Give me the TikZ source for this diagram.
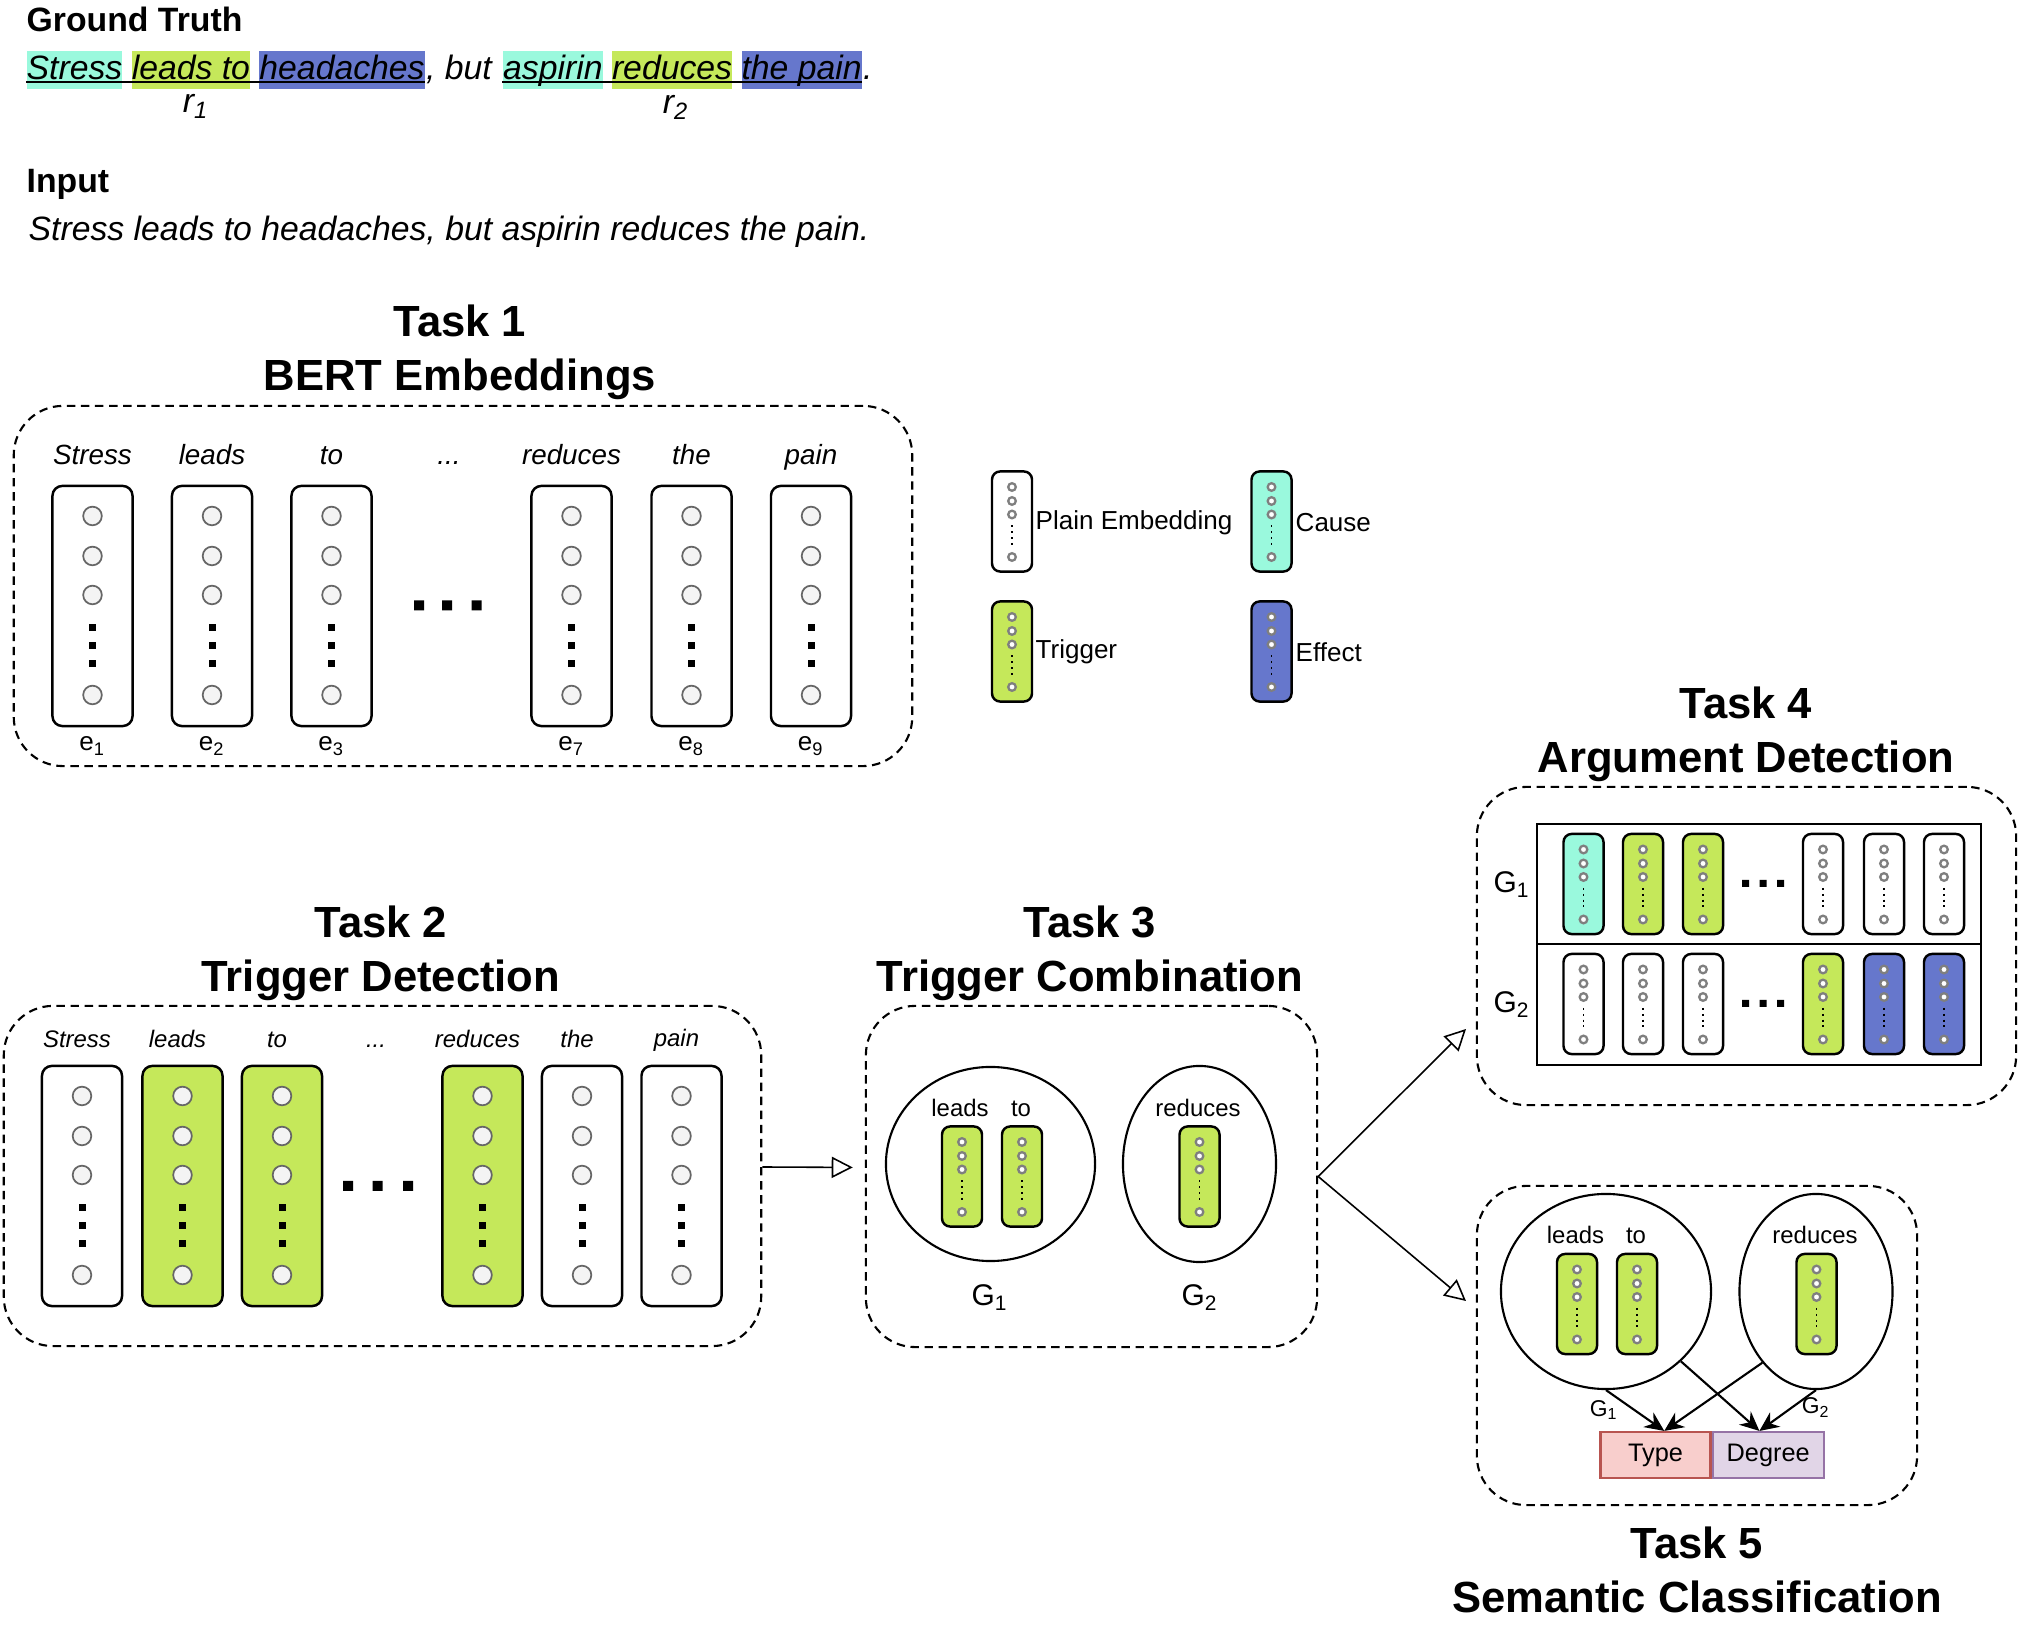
\documentclass[tikz,border=0pt]{standalone}
\usepackage{fontspec}
\setmainfont{Liberation Sans}
\usetikzlibrary{positioning,shapes.geometric,arrows.meta}
\definecolor{causecol}{HTML}{9AF9DD}
\definecolor{trigcol}{HTML}{C5E85A}
\definecolor{effectcol}{HTML}{6677CC}
\definecolor{typecol}{HTML}{F8CECC}
\definecolor{typeline}{HTML}{B85450}
\definecolor{degcol}{HTML}{E1D5E7}
\definecolor{degline}{HTML}{9673A6}
\definecolor{dotline}{HTML}{666666}
\definecolor{dotfill}{HTML}{F4F4F4}
\definecolor{ringgray}{HTML}{7F7F7F}
\begin{document}
\begin{tikzpicture}[x=0.01cm, y=-0.01cm,
  heading/.style={font=\bfseries\fontsize{9.6}{11.5}\selectfont, anchor=base west, inner sep=0},
  gt/.style={font=\itshape\fontsize{9.6}{11.5}\selectfont, inner sep=0, text height=0.29cm, text depth=0.09cm},
  tasktitle/.style={font=\bfseries\fontsize{12.4}{15.4}\selectfont, align=center, inner sep=0},
  task/.style={draw, dash pattern=on 2.4pt off 1.6pt, line width=0.6pt, rounded corners=14pt, inner sep=0},
  word/.style={font=\itshape\fontsize{7.9}{9.5}\selectfont, anchor=base, inner sep=0},
  tword/.style={font=\itshape\fontsize{6.8}{8}\selectfont, anchor=base, inner sep=0},
  elab/.style={font=\fontsize{7.4}{9}\selectfont, anchor=base, inner sep=0},
  leg/.style={font=\fontsize{7.4}{9}\selectfont, anchor=west, inner sep=0},
  gword/.style={font=\fontsize{6.8}{8}\selectfont, anchor=base, inner sep=0},
  glab/.style={font=\fontsize{8.5}{10}\selectfont, anchor=base, inner sep=0},
  gsmall/.style={font=\fontsize{6.5}{8}\selectfont, anchor=base, inner sep=0},
  bigbox/.style={draw, line width=0.7pt, rounded corners=2.8pt, minimum width=0.8cm, minimum height=2.4cm, inner sep=0},
  smallbox/.style={draw, line width=0.7pt, rounded corners=2.3pt, minimum width=0.4cm, minimum height=1cm, inner sep=0},
  bigdot/.style={draw=dotline, fill=dotfill, line width=0.5pt},
  smalldot/.style={draw=ringgray, fill=white, line width=0.65pt},
  gbox/.style={draw, line width=0.7pt, minimum width=4.44cm, minimum height=1.2cm, inner sep=0},
  group/.style={draw, ellipse, line width=0.6pt, inner sep=0},
  cls/.style={draw, line width=0.6pt, minimum width=1.1cm, minimum height=0.46cm, inner sep=0, font=\fontsize{7.2}{9}\selectfont},
  flow/.style={-{Triangle[open, length=6pt, width=6pt]}, line width=0.45pt},
  pick/.style={-{Stealth[length=5.5pt, width=5pt]}, line width=0.6pt},
  pics/bigcol/.style={code={
    \node[bigbox, fill=#1] (-box) at (0,0) {};
    \foreach \cy in {-90,-50,-11,89}
      \draw[bigdot] (0,\cy) circle[radius=0.093cm];
    \foreach \cy in {22,40,58}
      \fill (-3.5,\cy-3.5) rectangle (3.5,\cy+3.5);
  }},
  pics/smallcol/.style={code={
    \node[smallbox, fill=#1] (-box) at (0,0) {};
    \foreach \cy in {-34.5,-20.5,-7,35.5}
      \draw[smalldot] (0,\cy) circle[radius=0.038cm];
    \draw[line width=0.55pt, dash pattern=on 0.55pt off 1.1pt] (0,4) -- (0,27);
  }}
]
\useasboundingbox (0,0) rectangle (2020,1634);

\node[heading] (gtlab) at (26,32) {Ground Truth};
\node[gt, fill=causecol, anchor=base west] (gts) at (26,80) {Stress};
\node[gt, fill=trigcol, right=0.08cm of gts] (gtl) {leads to};
\node[gt, fill=effectcol, right=0.08cm of gtl] (gth) {headaches};
\node[gt, right=0cm of gth] (gtb) {, but};
\node[gt, fill=causecol, right=0.1cm of gtb] (gta) {aspirin};
\node[gt, fill=trigcol, right=0.08cm of gta] (gtr) {reduces};
\node[gt, fill=effectcol, right=0.08cm of gtr] (gtp) {the pain};
\node[gt, right=0cm of gtp] (gtd) {.};
\draw[line width=0.7pt] ([yshift=-0.02cm]gts.base west) -- ([yshift=-0.02cm]gth.base east);
\draw[line width=0.7pt] ([yshift=-0.02cm]gta.base west) -- ([yshift=-0.02cm]gtp.base east);
\node[gt, anchor=base] (r1) at (196,113) {r\textsubscript{1}};
\node[gt, anchor=base] (r2) at (676,114) {r\textsubscript{2}};

\node[heading] (inlab) at (26,193) {Input};
\node[gt, anchor=base west] (intext) at (28,241) {Stress leads to headaches, but aspirin reduces the pain.};

\node[tasktitle] (t1title) at (460,352) {Task 1\\BERT Embeddings};
\node[task, minimum width=8.98cm, minimum height=3.6cm] (t1) at (463,586) {};
\node[word] (t1w1) at (92.5,465) {Stress};
\node[word] (t1w2) at (212,465) {leads};
\node[word] (t1w3) at (331.5,465) {to};
\node[word] (t1w4) at (449,465) {...};
\node[word] (t1w5) at (571.5,465) {reduces};
\node[word] (t1w6) at (691.5,465) {the};
\node[word] (t1w7) at (811,465) {pain};
\pic (c1) at (92.5,606) {bigcol=white};
\pic (c2) at (212,606) {bigcol=white};
\pic (c3) at (331.5,606) {bigcol=white};
\pic (c7) at (571.5,606) {bigcol=white};
\pic (c8) at (691.5,606) {bigcol=white};
\pic (c9) at (811,606) {bigcol=white};
\fill (414,600.5) rectangle (424,610.5) (442,600.5) rectangle (452,610.5) (471.5,600.5) rectangle (481.5,610.5);
\node[elab] (e1) at (92.5,751) {e\textsubscript{1}};
\node[elab] (e2) at (212,751) {e\textsubscript{2}};
\node[elab] (e3) at (331.5,751) {e\textsubscript{3}};
\node[elab] (e7) at (571.5,751) {e\textsubscript{7}};
\node[elab] (e8) at (691.5,751) {e\textsubscript{8}};
\node[elab] (e9) at (811,751) {e\textsubscript{9}};

\pic (lgplain) at (1012,521.5) {smallcol=white};
\pic (lgcause) at (1271.5,521.5) {smallcol=causecol};
\pic (lgtrig) at (1012,651.5) {smallcol=trigcol};
\pic (lgeffect) at (1271.5,651.5) {smallcol=effectcol};
\node[leg] (lgplaintext) at (1035,523) {Plain Embedding};
\node[leg] (lgcausetext) at (1295,523) {Cause};
\node[leg] (lgtrigtext) at (1035,652) {Trigger};
\node[leg] (lgeffecttext) at (1295,652) {Effect};

\node[tasktitle] (t2title) at (381,953) {Task 2\\Trigger Detection};
\node[task, minimum width=7.57cm, minimum height=3.4cm] (t2) at (382.5,1176) {};
\node[tword] (t2w1) at (77,1048) {Stress};
\node[tword] (t2w2) at (177.5,1048) {leads};
\node[tword] (t2w3) at (277,1048) {to};
\node[tword] (t2w4) at (376,1048) {...};
\node[tword] (t2w5) at (477.5,1048) {reduces};
\node[tword] (t2w6) at (577,1048) {the};
\node[tword] (t2w7) at (676.5,1047) {pain};
\pic (d1) at (82,1186) {bigcol=white};
\pic (d2) at (182.5,1186) {bigcol=trigcol};
\pic (d3) at (282,1186) {bigcol=trigcol};
\pic (d7) at (482.5,1186) {bigcol=trigcol};
\pic (d8) at (582,1186) {bigcol=white};
\pic (d9) at (681.5,1186) {bigcol=white};
\fill (343,1181) rectangle (353,1191) (372.5,1181) rectangle (382.5,1191) (403,1181) rectangle (413,1191);

\node[tasktitle] (t3title) at (1090,953) {Task 3\\Trigger Combination};
\node[task, minimum width=4.51cm, minimum height=3.41cm] (t3) at (1091.5,1176.5) {};
\node[group, minimum width=2.09cm, minimum height=1.94cm] (t3g1) at (990.5,1164) {};
\node[group, minimum width=1.53cm, minimum height=1.96cm] (t3g2) at (1199.5,1164) {};
\node[gword] (t3w1) at (960,1117) {leads};
\node[gword] (t3w2) at (1021,1117) {to};
\node[gword] (t3w3) at (1198,1117) {reduces};
\pic (t3c1) at (962,1176.5) {smallcol=trigcol};
\pic (t3c2) at (1022,1176.5) {smallcol=trigcol};
\pic (t3c3) at (1199.5,1176.5) {smallcol=trigcol};
\node[glab] (t3l1) at (990,1306) {G\textsubscript{1}};
\node[glab] (t3l2) at (1200,1306) {G\textsubscript{2}};

\node[tasktitle] (t4title) at (1746,734) {Task 4\\Argument Detection};
\node[task, minimum width=5.39cm, minimum height=3.18cm] (t4) at (1746.5,946) {};
\node[gbox] (t4r1) at (1759,884) {};
\node[gbox, minimum height=1.21cm] (t4r2) at (1759,1004.5) {};
\node[glab] (t4l1) at (1512,893) {G\textsubscript{1}};
\node[glab] (t4l2) at (1512,1013) {G\textsubscript{2}};
\pic (a1) at (1583.5,884) {smallcol=causecol};
\pic (a2) at (1643,884) {smallcol=trigcol};
\pic (a3) at (1703,884) {smallcol=trigcol};
\pic (a7) at (1823,884) {smallcol=white};
\pic (a8) at (1884,884) {smallcol=white};
\pic (a9) at (1944,884) {smallcol=white};
\pic (b1) at (1583.5,1004) {smallcol=white};
\pic (b2) at (1643,1004) {smallcol=white};
\pic (b3) at (1703,1004) {smallcol=white};
\pic (b7) at (1823,1004) {smallcol=trigcol};
\pic (b8) at (1884,1004) {smallcol=effectcol};
\pic (b9) at (1944,1004) {smallcol=effectcol};
\fill (1742,880) rectangle (1749,887) (1759.5,880) rectangle (1766.5,887) (1777,880) rectangle (1784,887);
\fill (1742,1000) rectangle (1749,1007) (1759.5,1000) rectangle (1766.5,1007) (1777,1000) rectangle (1784,1007);

\node[tasktitle] (t5title) at (1697,1570) {Task 5\\Semantic Classification};
\node[task, minimum width=4.4cm, minimum height=3.19cm] (t5) at (1697,1345.5) {};
\node[group, minimum width=2.1cm, minimum height=1.95cm] (t5g1) at (1606,1291.5) {};
\node[group, minimum width=1.53cm, minimum height=1.95cm] (t5g2) at (1816,1291.5) {};
\node[gword] (t5w1) at (1575.5,1244) {leads};
\node[gword] (t5w2) at (1636,1244) {to};
\node[gword] (t5w3) at (1815,1244) {reduces};
\pic (t5c1) at (1577,1304) {smallcol=trigcol};
\pic (t5c2) at (1637,1304) {smallcol=trigcol};
\pic (t5c3) at (1816.5,1304) {smallcol=trigcol};
\node[cls, fill=typecol, draw=typeline] (type) at (1655.5,1455) {Type};
\node[cls, fill=degcol, draw=degline, minimum width=1.11cm, right=0cm of type] (degree) {Degree};
\node[gsmall] (t5l1) at (1604,1416) {G\textsubscript{1}};
\node[gsmall] (t5l2) at (1816,1414) {G\textsubscript{2}};
\draw[pick] (t5g1.south) -- (type.70);
\draw[pick] (t5g1.-43) -- (degree.110);
\draw[pick] (t5g2.-127) -- (type.70);
\draw[pick] (t5g2.south) -- (degree.110);

\coordinate (t4in) at (1466,1029);
\coordinate (t5in) at (1466,1301);
\draw[flow, shorten >=0.12cm] ([yshift=0.09cm]t2.east) -- ([yshift=0.09cm]t3.west);
\draw[flow] (t3.east) -- (t4in);
\draw[flow] (t3.east) -- (t5in);
\end{tikzpicture}
\end{document}
